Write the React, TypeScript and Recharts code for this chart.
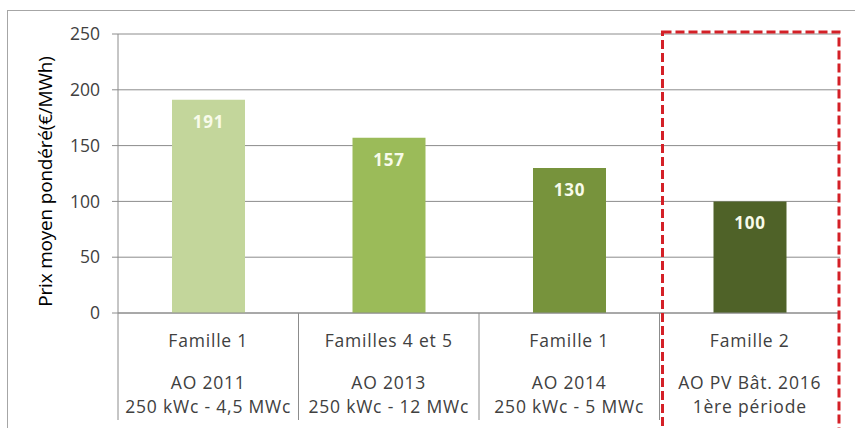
import React from 'react';
import { BarChart, Bar, XAxis, YAxis, CartesianGrid, Cell, LabelList } from 'recharts';

// Values
const families = ['Famille 1', 'Familles 4 et 5', 'Famille 1', 'Famille 2'];
const tenders = ['AO 2011', 'AO 2013', 'AO 2014', 'AO PV Bât. 2016'];
const ranges = ['250 kWc - 4,5 MWc', '250 kWc - 12 MWc', '250 kWc - 5 MWc', '1ère période'];
const prices = [191, 157, 130, 100];
const yTicks = [0, 50, 100, 150, 200, 250];

const barColors = ['#c3d69b', '#9bbb59', '#77933c', '#4f6228'];

const W = 855;
const H = 428;
const MARGIN = { top: 34, right: 15, left: 0, bottom: 5 };
const Y_AXIS_W = 118;
const X_AXIS_H = 110;
const PLOT_W = W - MARGIN.left - MARGIN.right - Y_AXIS_W;
const PLOT_H = H - MARGIN.top - MARGIN.bottom - X_AXIS_H;
const FONT = '"Open Sans", Lato, sans-serif';
const GRID = '#8c8c8c';

const data = prices.map((price, i) => ({ key: String(i), price }));

const catText = { fontSize: 17.5, fill: '#404040', fontFamily: FONT, letterSpacing: 0.8 };

const CategoryTick = ({ x, y, index }: any) => {
  const band = PLOT_W / prices.length;
  const left = x - band / 2;
  const last = index === prices.length - 1;
  return (
    <g>
      <line x1={left} y1={y} x2={left} y2={y + 107} stroke={GRID} strokeWidth={1} />
      <text x={x} y={y + 34} textAnchor="middle" style={catText}>
        {families[index]}
      </text>
      <text x={x} y={y + 76} textAnchor="middle" style={catText}>
        {tenders[index]}
      </text>
      <text x={x} y={y + 100} textAnchor="middle" style={catText}>
        {ranges[index]}
      </text>
      {last && (
        <rect
          x={left + 3}
          y={y - PLOT_H - 2}
          width={band - 4}
          height={PLOT_H + 125}
          fill="none"
          stroke="#d42027"
          strokeWidth={3}
          strokeDasharray="9 4"
        />
      )}
    </g>
  );
};

export default function App() {
  return (
    <div style={{ position: 'absolute', left: 0, top: 0, width: W, height: H, overflow: 'hidden', background: '#fff' }}>
      <div
        style={{
          position: 'absolute',
          left: 7,
          top: 10,
          width: 900,
          height: 500,
          border: '1px solid #a6a6a6',
        }}
      />
      <div style={{ position: 'absolute', left: 0, top: 0 }}>
        <BarChart width={W} height={H} data={data} margin={MARGIN} barSize={73}>
          <CartesianGrid vertical={false} stroke={GRID} />
          <XAxis
            dataKey="key"
            height={X_AXIS_H}
            axisLine={{ stroke: GRID }}
            tickLine={false}
            tickSize={0}
            tickMargin={0}
            interval={0}
            tick={<CategoryTick />}
          />
          <YAxis
            width={Y_AXIS_W}
            domain={[0, 250]}
            ticks={yTicks}
            axisLine={{ stroke: GRID }}
            tickLine={{ stroke: GRID }}
            tickSize={6}
            tickMargin={12}
            tick={{ fontSize: 17.5, fill: '#404040', fontFamily: FONT }}
            label={{
              value: 'Prix moyen pondéré(€/MWh)',
              angle: -90,
              position: 'center',
              dx: -14,
              dy: 8,
              style: { fontSize: 19, fill: '#000', fontFamily: FONT, textAnchor: 'middle', letterSpacing: -0.2 },
            }}
          />
          <Bar dataKey="price" isAnimationActive={false}>
            {data.map((d, i) => (
              <Cell key={d.key} fill={barColors[i]} />
            ))}
            <LabelList
              dataKey="price"
              position="insideTop"
              offset={16}
              fill="#f8fbea"
              style={{ fontSize: 17, fontWeight: 700, fontFamily: FONT, letterSpacing: 0.8 }}
            />
          </Bar>
        </BarChart>
      </div>
    </div>
  );
}
